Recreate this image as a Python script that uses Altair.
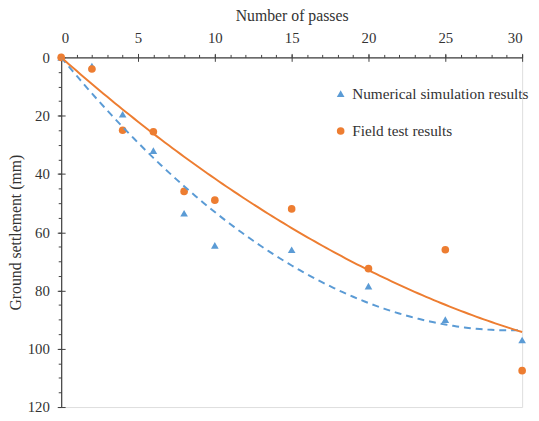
import altair as alt
import numpy as np
import pandas as pd

passes = [0, 2, 4, 6, 8, 10, 15, 20, 25, 30]
numerical = [0, 3, 19.5, 32, 53.5, 64.5, 66, 78.5, 90, 97]
field = [0, 4, 25, 25.5, 46, 49, 52, 72.5, 66, 107.5]
series_names = ["Numerical simulation results", "Field test results"]
x_major = [0, 5, 10, 15, 20, 25, 30]
x_minor = list(range(0, 31))
y_major = [0, 20, 40, 60, 80, 100, 120]
y_minor = list(range(0, 121, 5))

BLUE = "#5B9BD5"
ORANGE = "#ED7D31"
AX = "#404040"
TXT = "#333333"
FONT = "Liberation Serif"
W, H = 468, 355

df = pd.DataFrame({
    "x": passes * 2,
    "y": numerical + field,
    "series": [series_names[0]] * len(passes) + [series_names[1]] * len(passes),
})


def fit_origin_quadratic(xv, yv):
    # least-squares y = b*x + c*x^2 (trendline through the origin)
    xa = np.array(xv, dtype=float)
    A = np.column_stack([xa, xa ** 2])
    coef, *_ = np.linalg.lstsq(A, np.array(yv, dtype=float), rcond=None)
    return float(coef[0]), float(coef[1])


bn, cn = fit_origin_quadratic(passes, numerical)
bf, cf = fit_origin_quadratic(passes, field)

xs = alt.Scale(domain=[0, 30], nice=False, zero=False)
ys = alt.Scale(domain=[0, 120], reverse=True, nice=False, zero=False)

base = alt.Chart(df)

leg = alt.Legend(title=None, orient="none", legendX=276, legendY=29,
                 labelFont=FONT, labelFontSize=15.5, labelColor=TXT, labelLimit=400,
                 rowPadding=21, symbolSize=60, padding=0, labelOffset=4)

points = base.mark_point(filled=True, opacity=1).encode(
    x=alt.X("x:Q", scale=xs, axis=alt.Axis(
        orient="top", title="Number of passes", values=x_major, tickSize=4,
        labelPadding=8, titlePadding=7, grid=False, domainColor=AX, tickColor=AX,
        labelColor=TXT, titleColor=TXT, labelFont=FONT, titleFont=FONT,
        labelFontSize=15, titleFontSize=16, titleFontWeight="normal", domainWidth=1.2)),
    y=alt.Y("y:Q", scale=ys, axis=alt.Axis(
        orient="left", title="Ground settlement (mm)", values=y_major, tickSize=4,
        labelPadding=8, titlePadding=4, grid=False, domainColor=AX, tickColor=AX,
        labelColor=TXT, titleColor=TXT, labelFont=FONT, titleFont=FONT,
        labelFontSize=15, titleFontSize=16, titleFontWeight="normal", domainWidth=1.2)),
    color=alt.Color("series:N", scale=alt.Scale(domain=series_names, range=[BLUE, ORANGE]), legend=leg),
    shape=alt.Shape("series:N", scale=alt.Scale(domain=series_names, range=["triangle-up", "circle"]), legend=leg),
    size=alt.value(60),
)

curve_base = alt.Chart(alt.sequence(0, 30.25, 0.25, as_="x"))

blue_fit = curve_base.transform_calculate(
    y=f"{bn} * datum.x + {cn} * datum.x * datum.x"
).mark_line(color=BLUE, strokeDash=[7, 5], strokeWidth=2).encode(
    x=alt.X("x:Q", scale=xs, axis=None), y=alt.Y("y:Q", scale=ys, axis=None))

orange_fit = curve_base.transform_calculate(
    y=f"{bf} * datum.x + {cf} * datum.x * datum.x"
).mark_line(color=ORANGE, strokeWidth=2).encode(
    x=alt.X("x:Q", scale=xs, axis=None), y=alt.Y("y:Q", scale=ys, axis=None))

# minor ticks (outward)
minor = base.mark_point(opacity=0).encode(
    x=alt.X("x:Q", scale=xs, axis=alt.Axis(orient="top", values=x_minor, labels=False, domain=False,
                                           title=None, tickSize=3, tickColor=AX, grid=False)),
    y=alt.Y("y:Q", scale=ys, axis=alt.Axis(orient="left", values=y_minor, labels=False, domain=False,
                                           title=None, tickSize=3, tickColor=AX, grid=False)),
)

# inward halves of major ticks (crossing style)
inward = base.mark_point(opacity=0).encode(
    x=alt.X("x:Q", scale=xs, axis=alt.Axis(orient="bottom", offset=-H, values=x_major, labels=False,
                                           domain=False, title=None, tickSize=4, tickColor=AX, grid=False)),
    y=alt.Y("y:Q", scale=ys, axis=alt.Axis(orient="right", offset=-W, values=y_major, labels=False,
                                           domain=False, title=None, tickSize=4, tickColor=AX, grid=False)),
)

chart = alt.layer(points, blue_fit, orange_fit, minor, inward).resolve_axis(
    x="independent", y="independent"
).properties(
    width=W, height=H,
    autosize=alt.AutoSizeParams(type="none"),
    padding={"left": 54, "top": 47, "right": 9, "bottom": 10},
).configure_view(stroke=None).configure(
    background="white", font=FONT
).configure_axis(labelFont=FONT, titleFont=FONT).configure_legend(labelFont=FONT)

chart.save("out.html", embed_options={"renderer": "svg", "actions": False})
